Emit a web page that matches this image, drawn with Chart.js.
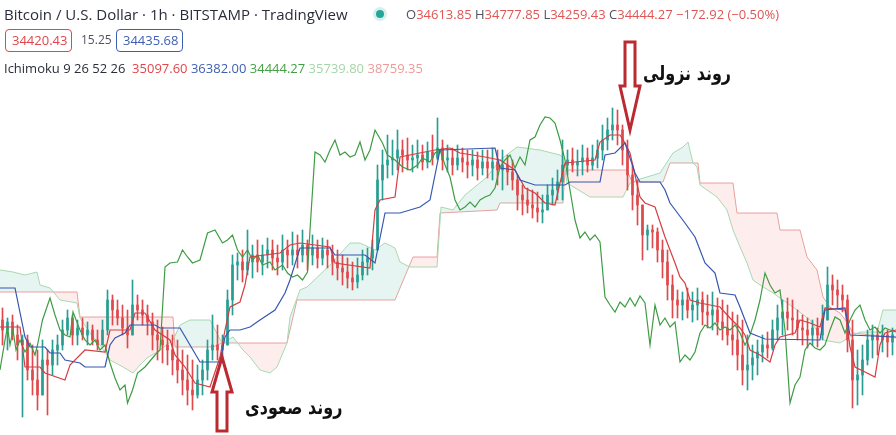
<!DOCTYPE html>
<html>
<head>
<meta charset="utf-8">
<script src="https://cdn.jsdelivr.net/npm/chart.js@4/dist/chart.umd.min.js"></script>
<style>
  html, body { margin: 0; padding: 0; background: #fff; }
  #wrap { position: relative; width: 896px; height: 435px; overflow: hidden; font-family: "Open Sans", "DejaVu Sans", sans-serif; }
  #chart { position: absolute; left: 0; top: 0; display: block; }
  .txt { position: absolute; white-space: nowrap; color: #131722; }
  .r1 { left: 4px; top: 4px; font-size: 15px; color: #2a2e39; }
  .r3 { left: 4px; top: 59px; font-size: 13px; color: #2a2e39; }
  .dot { position: absolute; left: 373px; top: 7px; width: 14px; height: 14px; border-radius: 50%; background: rgba(38,166,154,0.18); }
  .dot::after { content: ""; position: absolute; left: 3px; top: 3px; width: 8px; height: 8px; border-radius: 50%; background: #26a69a; }
  .ohlc { left: 406px; top: 5px; font-size: 13px; color: #50535e; }
  .dn { color: #e05555; }
  .box { position: absolute; top: 29px; height: 21px; line-height: 21px; font-size: 13px; padding: 0 6px; border-radius: 4px; border: 1px solid; }
  .fa { position: absolute; font-family: "DejaVu Sans", sans-serif; font-weight: bold; font-size: 20px; color: #111; direction: rtl; white-space: nowrap; transform: scaleX(0.8); transform-origin: left top; }
</style>
</head>
<body>
<div id="wrap">
  <canvas id="chart" width="896" height="435"></canvas>
  <div class="txt r1">Bitcoin / U.S. Dollar · 1h · BITSTAMP · TradingView</div>
  <div class="dot"></div>
  <div class="txt ohlc">O<span class="dn">34613.85</span> H<span class="dn">34777.85</span> L<span class="dn">34259.43</span> C<span class="dn">34444.27</span> <span class="dn">−172.92 (−0.50%)</span></div>
  <div class="box" style="left:5px;width:53px;color:#e0464b;border-color:#e0464b;">34420.43</div>
  <div class="txt" style="left:81px;top:31px;font-size:12px;color:#50535e;">15.25</div>
  <div class="box" style="left:116px;width:53px;color:#3d5fb3;border-color:#3d5fb3;">34435.68</div>
  <div class="txt r3">Ichimoku 9 26 52 26 &nbsp;<span style="color:#e0464b">35097.60</span> <span style="color:#3d5fb3">36382.00</span> <span style="color:#43a047">34444.27</span> <span style="color:#a5d6a7">35739.80</span> <span style="color:#ef9a9a">38759.35</span></div>
  <div class="fa" style="left:643px;top:61px;">روند نزولی</div>
  <div class="fa" style="left:245px;top:395px;">روند صعودی</div>
</div>
<script>
// candles, one per hour (open = previous close)
const firstOpen = 35600;
const candleClose = [
  35400,35560,35300,35100,35200,34600,34400,34100,34800,34700,
  35000,35100,35400,35640,35300,35440,35300,35400,35200,35100,
  35400,36000,35800,35640,35440,35300,35900,35800,35700,35560,
  35300,35200,35100,35000,34800,34600,34400,34200,34100,34400,
  34600,35000,35100,35000,35100,36000,36700,36760,36600,36760,
  36900,36760,36900,37000,36840,36760,37000,36900,37000,36900,
  37100,36900,37040,36840,37000,36900,36760,36640,36560,36440,
  36360,36500,36760,36840,37000,38400,38700,38800,38840,39000,
  38900,38800,38840,38900,38760,38960,38840,39040,38800,38840,
  38700,38840,38760,38700,38800,38640,38760,38640,38760,38600,
  38700,38560,38400,38100,38000,37900,37840,37760,37800,38100,
  38200,38360,38700,38800,38700,38760,38840,38700,38840,39000,
  39200,39400,39500,39400,39000,38500,38100,37900,37300,37400,
  37360,37000,36760,36300,36000,35900,36000,35800,35900,36000,
  35760,35700,35800,35560,35440,35300,35200,34900,34600,34700,
  34840,34960,35100,35040,35400,35640,35760,35640,35600,35440,
  35400,35300,35440,35300,35600,36300,36200,36100,36000,35200,
  34400,34500,34800,35200,35300,35200,35300,35160,35300
];
const candleHigh = [
  35840,35640,35700,35500,35300,35300,35100,35000,35200,35000,
  35200,35300,35600,35800,35700,35600,35640,35560,35500,35400,
  35600,36200,36100,36000,35900,35800,36400,36100,36000,35900,
  35740,35600,35460,35400,35300,35200,35000,34900,34800,34700,
  34800,35200,35700,35500,35300,36200,36900,36940,37000,37400,
  37100,37200,37100,37240,37200,37100,37300,37200,37360,37300,
  37400,37200,37300,37200,37240,37200,37100,37000,36900,36840,
  36760,36840,37000,37040,37200,38700,39000,39300,39200,39400,
  39200,39240,39100,39200,39100,39160,39300,39640,39200,39100,
  39040,39100,39040,39000,39000,38960,39000,39000,39040,39000,
  39000,38900,38800,38500,38300,38240,38200,38160,38100,38300,
  38440,38600,39200,39000,39040,39000,39100,39040,39100,39200,
  39500,39640,39840,39800,39500,39200,38700,38400,37900,37500,
  37500,37440,37200,37000,36500,36200,36160,36240,36160,36240,
  36160,36100,36160,36040,36000,35900,35760,35700,35600,35300,
  35100,35200,35300,35360,35600,35900,36000,36040,36000,35800,
  35700,35640,35600,35640,35900,36660,36500,36400,36300,36100,
  35600,35000,35100,35400,35500,35440,35500,35400,35440
];
const candleLow = [
  35100,35000,35200,34800,33660,34400,34100,33800,34300,33700,
  34500,34700,35000,35300,35100,35100,35200,35100,35100,35000,
  35100,35300,35500,35500,35300,35040,35300,35600,35500,35300,
  35000,34800,34740,34700,34500,34340,34100,33900,33800,34040,
  34100,34400,34800,34800,34760,35100,35700,36400,36360,36500,
  36440,36560,36500,36640,36600,36500,36600,36640,36700,36640,
  36760,36600,36700,36640,36700,36640,36500,36400,36300,36240,
  36200,36240,36400,36500,36600,37100,38000,38440,38500,38600,
  38560,38600,38560,38640,38600,38640,38700,38800,38600,38560,
  38500,38600,38560,38440,38480,38400,38500,38440,38400,38300,
  38200,38300,38200,37800,37700,37740,37640,37560,37540,37800,
  37900,38000,38000,38500,38560,38480,38500,38560,38600,38640,
  38800,39000,39200,39100,38700,38200,37800,37500,36800,37000,
  37040,36760,36440,36000,35640,35640,35600,35640,35560,35600,
  35500,35440,35400,35300,35200,35100,34900,34600,34300,34200,
  34400,34500,34760,34840,35000,35200,35300,35400,35300,35200,
  35100,35040,35100,35060,35200,35600,35900,35840,35760,34960,
  33840,33900,34100,34700,34840,34900,34960,34860,34900
];

// Ichimoku lines as [bar position, price]
const tenkan = [
  [0,35460],[4,35460],[5,34660],[8,34660],[9,34540],[13,34400],[14,34700],[17,35000],[21,34960],[22,35400],
  [26,35400],[27,35740],[29,35740],[31,35400],[34,35200],[35,34900],[37,34660],[39,34340],[42,34260],[43,34560],
  [44,34860],[45,35400],[46,35860],[48,35960],[49,36300],[50,36860],[56,36940],[58,37100],[60,37140],[66,37060],
  [67,36740],[74,36640],[75,37800],[76,38000],[79,38060],[80,38860],[87,39000],[90,39040],[92,38940],[97,38860],
  [100,38800],[103,38600],[105,38240],[107,38140],[109,37940],[111,37900],[112,38340],[113,38740],[119,38800],[120,39160],
  [122,39300],[124,39300],[125,39140],[126,38940],[127,38500],[128,38060],[129,37940],[131,37860],[132,37560],[133,37260],
  [134,37000],[135,36740],[136,36460],[137,36340],[138,36000],[140,35940],[144,35860],[146,35640],[148,35440],[149,35300],
  [150,35000],[152,34900],[154,34760],[155,35100],[156,35260],[159,35340],[160,35600],[162,35540],[164,35460],[165,35840],
  [169,35800],[170,35060],[171,34660],[173,34560],[175,34460],[176,35100],[177,35340],[179.2,35400]
];
const kijun = [
  [0,36240],[3,36240],[5,35260],[6,35060],[9,35060],[10,34940],[12,34940],[13,34800],[16,34740],[17,34660],
  [21,34660],[22,35100],[23,35240],[25,35340],[26,35500],[31,35500],[32,35440],[36,35440],[38,35100],[40,34760],
  [44,34760],[45,35260],[46,35400],[48,35400],[50,35460],[52,35600],[55,35800],[57,36140],[58,36400],[60,37040],
  [66,37040],[67,36900],[73,36900],[75,36740],[77,37740],[80,37740],[84,37860],[86,38000],[88,39000],[99,39040],
  [100,38640],[103,38600],[104,38400],[107,38300],[113,38300],[114,38360],[120,38360],[121,38900],[123,38940],[125,39140],
  [126,38840],[127,38540],[128,38360],[132,38360],[133,38200],[134,37940],[137,37540],[139,37260],[141,36740],[143,36540],
  [144,36140],[147,36100],[148,35860],[149,35600],[150,35340],[152,35260],[153,35220],[164,35200],[165,35800],[169,35840],
  [170,35300],[179.2,35260]
];
const chikou = [
  [0,34600],[1,35200],[1.5,35460],[2,35100],[2.6,35400],[3.2,35000],[4,35200],[5,34960],[6,35140],[7,34900],
  [7.5,35100],[8.5,35600],[10,36040],[11,35700],[12,35400],[13,35300],[14,35260],[14.6,35760],[16,35400],[17,35200],
  [18,35100],[19,35200],[20,35000],[21,35100],[22,34740],[23,34440],[24,34200],[25,34300],[25.5,33940],[26.5,34200],
  [27.5,34540],[29,34660],[31,34900],[32,35000],[33,36660],[34,36740],[35.5,36760],[36.5,37000],[37.5,36860],[38.5,36740],
  [40,36800],[41.5,37340],[43,37400],[44.5,37140],[45.5,37200],[46.5,37300],[47.5,37000],[48.5,36860],[49.5,37000],[50.5,36800],
  [51.5,36900],[52.5,36700],[54,36760],[55,36600],[56.5,36700],[57.5,36540],[58.5,36460],[59.5,36500],[60.5,36400],[61.5,36560],
  [62,37400],[63,38960],[64,38900],[65,38760],[66,39000],[67,39200],[68,38900],[69,38960],[70,38860],[71,38900],
  [72,39160],[73,38800],[74,39000],[75,39400],[76.5,39140],[77.5,38900],[79,38800],[80.5,38660],[82,38600],[83.5,38700],
  [84.5,38840],[86,38760],[87,38940],[88,39000],[89,38700],[90,38460],[91,38000],[92,37800],[93,37860],[94,37960],
  [95,37860],[96,38000],[97,38060],[98,38100],[99,38240],[100,38660],[101,38800],[102,38900],[103,38640],[104,38860],
  [105,38700],[106,39200],[107,39260],[108,39500],[109,39660],[110,39640],[111,39540],[112,39200],[113,38800],[114,38200],
  [115,37600],[116,37240],[117,37360],[118,37200],[119,37300],[120,37160],[121,36060],[122,35900],[123,35760],[124,35960],
  [125,35860],[126,36040],[127,35880],[128,36080],[129,35940],[130,35100],[131,35900],[132,35500],[133,35640],[134,35460],
  [135,35560],[136,34760],[137,34900],[138,34800],[139,34960],[140,35340],[141,35500],[142,35440],[143,35540],[144,35400],
  [145,35460],[146,35400],[147,35500],[148,35340],[149,35100],[150,35300],[151,35600],[152,36000],[153,36540],[154,36300],
  [155,36140],[156,36200],[157,35400],[158,33940],[159,34300],[160,34460],[161,35000],[162,35140],[163,35040],[164,35000],
  [165,35100],[166,35400],[167,35660],[168,35600],[169,35340],[170,35600],[171,35800],[172,35900],[173,35600],[174,35400],
  [175,35460],[176,35340],[177,35440],[178,35400],[179.2,35360]
];
const spanA = [
  [0,36600],[2.6,36560],[5,36500],[7.4,36560],[8,36300],[10,36240],[12,36000],[15.4,35940],[16,35640],[18,35340],
  [20,35100],[22,34800],[24.6,34660],[26.6,34540],[28,34700],[29.4,34840],[32,35000],[34.6,35200],[36,35500],[38,35600],
  [42,35600],[44.4,35140],[46.6,35260],[48.6,35000],[50,34860],[52,34600],[54,34540],[55.4,34660],[57.4,35140],[58,35660],
  [60,36200],[61.4,36260],[66,36700],[70,37140],[72,37140],[75,37000],[77,37140],[79,37040],[80,36760],[82,36660],
  [87.4,36660],[88.2,37860],[90.6,37800],[93,38100],[97.4,38460],[100,38800],[103.4,39060],[108,39000],[112,38900],[112.6,38840],
  [113.4,38340],[118,38060],[124.6,38060],[126,38340],[127.4,38400],[132,38540],[134.6,38940],[136.6,39060],[137.6,39160],[138.6,38740],
  [139.4,38660],[140,38300],[141.4,38200],[143.4,38060],[145.4,37800],[146.6,37400],[148,37060],[149.4,36740],[150.6,36400],[152,36300],
  [154.6,36140],[156,36040],[159.4,35800],[162,35600],[164.6,35200],[168,35140],[170,35260],[172,35360],[175.4,35360],[176.6,35800],
  [179.2,35800]
];
const spanB = [
  [0,36160],[15.4,36160],[16,35660],[34.6,35660],[35,35060],[42.6,35060],[44.4,35140],[57.4,35140],[59.4,36000],[79,36000],
  [82.6,36860],[87.4,36860],[88,37740],[99.4,37800],[100,37940],[112.6,37940],[113,38600],[125.4,38600],[126.4,38360],[132.6,38360],
  [134,38740],[139.6,38740],[140,38340],[146.6,38340],[147.4,37740],[155.4,37740],[156,37400],[160,37400],[161.4,36860],[163.4,36600],
  [164.6,36060],[166,35860],[168,35740],[169.4,35560],[170.6,35340],[179.2,35240]
];

// arrow annotations: bar position and price of the tip
const trendArrows = [
  { x: 44.4, price: 34860, dir: 'up' },
  { x: 126, price: 39400, dir: 'down' }
];

const UP = '#2a9d93', DOWN = '#e0494c';

const bodies = [], wicks = [], candleColors = [];
candleClose.forEach((c, i) => {
  const o = i === 0 ? firstOpen : candleClose[i - 1];
  const lo = Math.min(candleLow[i], o, c);
  const hi = Math.max(candleHigh[i], o, c);
  bodies.push({ x: i + 0.5, y: [o, c === o ? c + 15 : c] });
  wicks.push({ x: i + 0.5, y: [lo, hi] });
  candleColors.push(c >= o ? UP : DOWN);
});

const toPts = arr => arr.map(p => ({ x: p[0], y: p[1] }));

function lineSet(label, arr, color, order, extra) {
  return Object.assign({
    type: 'line',
    label: label,
    data: toPts(arr),
    borderColor: color,
    borderWidth: 1.2,
    pointRadius: 0,
    tension: 0,
    fill: false,
    order: order
  }, extra || {});
}

const arrowPlugin = {
  id: 'trendArrows',
  afterDatasetsDraw(chart) {
    const { ctx, scales } = chart;
    trendArrows.forEach(a => {
      const tx = scales.x.getPixelForValue(a.x);
      const ty = scales.y.getPixelForValue(a.price);
      const s = a.dir === 'up' ? 1 : -1;
      const head = a.dir === 'up' ? 35 : 44;
      const len = a.dir === 'up' ? 74 : 88;
      const hw = 10, sw = 5;
      ctx.save();
      ctx.beginPath();
      ctx.moveTo(tx, ty);
      ctx.lineTo(tx + hw, ty + s * head);
      ctx.lineTo(tx + sw, ty + s * head);
      ctx.lineTo(tx + sw, ty + s * len);
      ctx.lineTo(tx - sw, ty + s * len);
      ctx.lineTo(tx - sw, ty + s * head);
      ctx.lineTo(tx - hw, ty + s * head);
      ctx.closePath();
      ctx.fillStyle = '#fff';
      ctx.fill();
      ctx.lineWidth = 3;
      ctx.lineJoin = 'miter';
      ctx.strokeStyle = '#bb2a30';
      ctx.stroke();
      ctx.restore();
    });
  }
};

new Chart(document.getElementById('chart').getContext('2d'), {
  type: 'line',
  data: {
    datasets: [
      lineSet('Lead 1', spanA, '#a8d8b0', 5, {
        borderWidth: 1,
        fill: { target: '+1', above: 'rgba(60,175,150,0.12)', below: 'rgba(240,80,70,0.10)' }
      }),
      lineSet('Lead 2', spanB, '#eaa5a2', 5, { borderWidth: 1 }),
      {
        type: 'bar',
        label: 'wick',
        data: wicks,
        backgroundColor: candleColors,
        barThickness: 1,
        grouped: false,
        order: 3
      },
      {
        type: 'bar',
        label: 'body',
        data: bodies,
        backgroundColor: candleColors,
        barThickness: 2,
        grouped: false,
        order: 2
      },
      lineSet('Lagging Span', chikou, '#3f9c45', 1),
      lineSet('Base Line', kijun, '#3656b0', 0),
      lineSet('Conversion Line', tenkan, '#d23f43', 0)
    ]
  },
  options: {
    responsive: false,
    animation: false,
    layout: { padding: 0 },
    plugins: {
      legend: { display: false },
      tooltip: { enabled: false }
    },
    scales: {
      x: { type: 'linear', min: 0, max: 179.2, display: false, offset: false },
      y: { type: 'linear', min: 33300, max: 42000, display: false }
    }
  },
  plugins: [arrowPlugin]
});
</script>
</body>
</html>
